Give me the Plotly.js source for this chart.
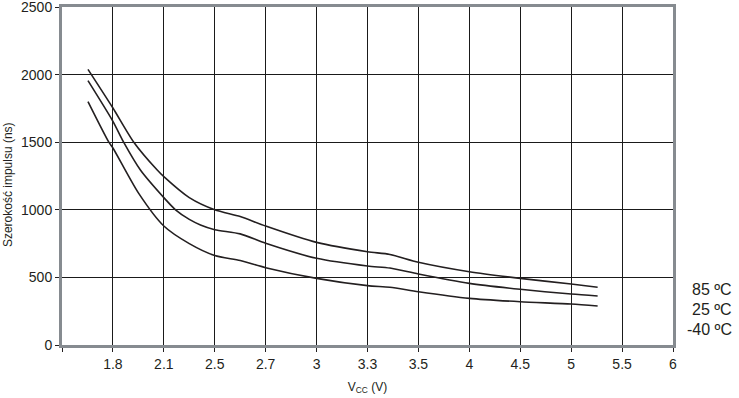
<!DOCTYPE html>
<html>
<head>
<meta charset="utf-8">
<script src="https://cdn.plot.ly/plotly-3.0.1.min.js"></script>
<style>html,body{margin:0;padding:0;background:#fff;}#chart{width:739px;height:398px;}</style>
</head>
<body>
<div id="chart"></div>
<script>
// X axis is a category-like evenly spaced axis; positions are category index units
const tickLabels = ['1.8', '2.1', '2.5', '2.7', '3', '3.3', '3.5', '4', '4.5', '5', '5.5', '6'];
const tickPos = [0, 1, 2, 3, 4, 5, 6, 7, 8, 9, 10, 11];

const x85 = [-0.49, 0, 0.41, 0.87, 1, 1.5, 2, 2.5, 3, 4, 5, 5.44, 6, 7, 8, 9, 9.52];
const y85 = [2039, 1753, 1500, 1294, 1245, 1090, 1000, 950, 880, 759, 690, 670, 612, 542, 493, 451, 427];

const x25 = [-0.49, 0, 0.21, 0.54, 1, 1.23, 1.5, 1.72, 2, 2.5, 3, 4, 5, 5.44, 6, 7, 8, 9, 9.52];
const y25 = [1955, 1654, 1500, 1294, 1090, 1000, 929, 888, 853, 822, 752, 641, 584, 569, 525, 456, 412, 377, 362];

const xm40 = [-0.49, -0.08, 0, 0.5, 1, 1.5, 2, 2.5, 3, 4, 5, 5.44, 6, 7, 8, 9, 9.52];
const ym40 = [1800, 1500, 1457, 1125, 880, 750, 662, 625, 572, 493, 439, 427, 394, 345, 320, 303, 288];

const seriesNames = ['85 ºC', '25 ºC', '-40 ºC'];
const yTitle = 'Szerokość impulsu (ns)';
const xTitle = 'V<sub>CC</sub> (V)';

const lineStyle = {color: '#231f20', width: 1.6, shape: 'spline', smoothing: 0.7};
const traces = [
  {x: x85, y: y85, name: seriesNames[0], mode: 'lines', line: lineStyle},
  {x: x25, y: y25, name: seriesNames[1], mode: 'lines', line: lineStyle},
  {x: xm40, y: ym40, name: seriesNames[2], mode: 'lines', line: lineStyle}
];

const fontFam = 'Liberation Sans, Arial, Helvetica, sans-serif';
const labelY = [0.165, 0.105, 0.045];
const annotations = seriesNames.map((t, i) => ({
  text: t, xref: 'paper', yref: 'paper', x: 1.1005, y: labelY[i],
  xanchor: 'right', yanchor: 'middle', showarrow: false,
  font: {family: fontFam, size: 16, color: '#231f20'}
}));
annotations.push({
  text: yTitle, xref: 'paper', yref: 'paper', x: -0.0884, y: 0.476,
  xanchor: 'center', yanchor: 'middle', textangle: -90, showarrow: false,
  font: {family: fontFam, size: 12, color: '#231f20'}
});

const layout = {
  width: 739, height: 398,
  margin: {l: 62, r: 66, t: 7, b: 53},
  paper_bgcolor: '#fff', plot_bgcolor: '#fff',
  showlegend: false,
  font: {family: fontFam, size: 14, color: '#231f20'},
  xaxis: {
    range: [-1, 11], tickmode: 'array', tickvals: tickPos, ticktext: tickLabels,
    showgrid: true, gridcolor: '#1a1a1a', gridwidth: 1,
    showline: true, linecolor: '#868b90', linewidth: 3, mirror: true,
    ticks: 'outside', ticklen: 4, tickcolor: '#231f20', tickwidth: 1,
    minor: {tickmode: 'linear', tick0: -1, dtick: 1, ticks: 'outside', ticklen: 4, tickcolor: '#231f20', tickwidth: 1, showgrid: false},
    ticklabeloverflow: 'allow',
    zeroline: false, fixedrange: true,
    title: {text: xTitle, font: {size: 12}, standoff: 12}
  },
  yaxis: {
    range: [0, 2500], tickmode: 'linear', dtick: 500, tick0: 0,
    showgrid: true, gridcolor: '#1a1a1a', gridwidth: 1,
    showline: true, linecolor: '#868b90', linewidth: 3, mirror: true,
    ticks: 'outside', ticklen: 4, tickcolor: '#231f20', tickwidth: 1,
    ticklabeloverflow: 'allow',
    zeroline: false, fixedrange: true
  },
  annotations: annotations
};

Plotly.newPlot('chart', traces, layout, {staticPlot: true, displayModeBar: false});
</script>
</body>
</html>
